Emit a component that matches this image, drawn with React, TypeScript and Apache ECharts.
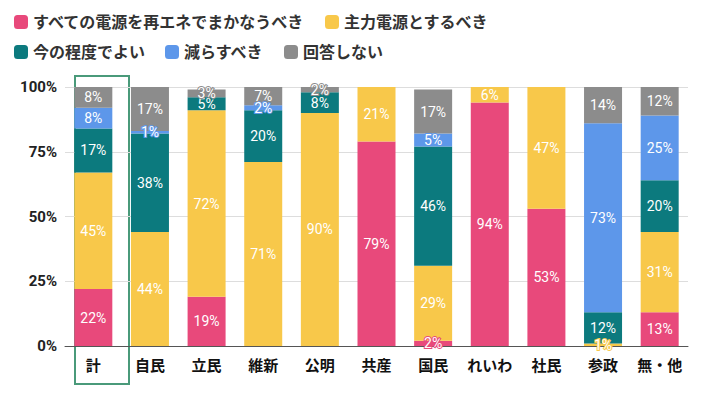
import { useEffect, useRef } from 'react'
import * as echarts from 'echarts'

const parties = ['計', '自民', '立民', '維新', '公明', '共産', '国民', 'れいわ', '社民', '参政', '無・他']
const seriesNames = ['すべての電源を再エネでまかなうべき', '主力電源とするべき', '今の程度でよい', '減らすべき', '回答しない']
const colors = ['#e8497b', '#f8c84a', '#0c7a7e', '#5d97ea', '#8c8c8c']
const allRenew = [22, 0, 19, 0, 0, 79, 2, 94, 53, 0, 13]
const mainPower = [45, 44, 72, 71, 90, 21, 29, 6, 47, 1, 31]
const current = [17, 38, 5, 20, 8, 0, 46, 0, 0, 12, 20]
const reduce = [8, 1, 0, 2, 0, 0, 5, 0, 0, 73, 25]
const noAnswer = [8, 17, 3, 7, 2, 0, 17, 0, 0, 14, 12]
const values = [allRenew, mainPower, current, reduce, noAnswer]

export default function App() {
  const elRef = useRef<HTMLDivElement>(null)

  useEffect(() => {
    if (!elRef.current) return
    const chart = echarts.init(elRef.current, null, { renderer: 'svg' })
    const legendText = { fontSize: 16, color: '#333', fontWeight: 'bold' }
    chart.setOption({
      animation: false,
      textStyle: { fontFamily: 'Roboto, "Noto Sans CJK JP", sans-serif' },
      legend: [
        {
          data: seriesNames.slice(0, 2),
          left: 8,
          top: 8,
          itemWidth: 14,
          itemHeight: 14,
          itemGap: 20,
          icon: 'roundRect',
          textStyle: legendText,
        },
        {
          data: seriesNames.slice(2),
          left: 8,
          top: 38,
          itemWidth: 14,
          itemHeight: 14,
          itemGap: 20,
          icon: 'roundRect',
          textStyle: legendText,
        },
      ],
      grid: { left: 64, right: 10, top: 86, bottom: 52 },
      xAxis: {
        type: 'category',
        data: parties,
        axisTick: { show: false },
        axisLine: { lineStyle: { color: '#555' } },
        axisLabel: { interval: 0, fontSize: 15, color: '#111', fontWeight: 'bold', margin: 12 },
      },
      yAxis: {
        type: 'value',
        min: 0,
        max: 100,
        interval: 25,
        axisLabel: { formatter: '{value}%', fontSize: 15, color: '#222', fontWeight: 'bold' },
        splitLine: { lineStyle: { color: '#ddd' } },
      },
      graphic: [
        {
          type: 'rect',
          shape: { x: 74, y: 75, width: 54, height: 308 },
          style: { fill: 'none', stroke: '#4a9a7a', lineWidth: 2 },
        },
      ],
      series: seriesNames.map((name, i) => ({
        name,
        type: 'bar',
        stack: 'all',
        barWidth: 38,
        itemStyle: { color: colors[i] },
        data: values[i],
        label: {
          show: true,
          position: 'inside',
          fontSize: 14,
          color: '#fff',
          formatter: (p: any) => (p.value > 0 ? p.value + '%' : ''),
          textBorderColor: colors[i],
          textBorderWidth: 2,
        },
      })),
    })
    return () => chart.dispose()
  }, [])

  return (
    <div
      style={{
        width: 699,
        height: 399,
        border: '1px solid #ccc',
        borderRadius: 10,
        boxSizing: 'border-box',
        margin: -8,
        background: '#fff',
      }}
    >
      <div ref={elRef} style={{ width: 697, height: 397 }} />
    </div>
  )
}
